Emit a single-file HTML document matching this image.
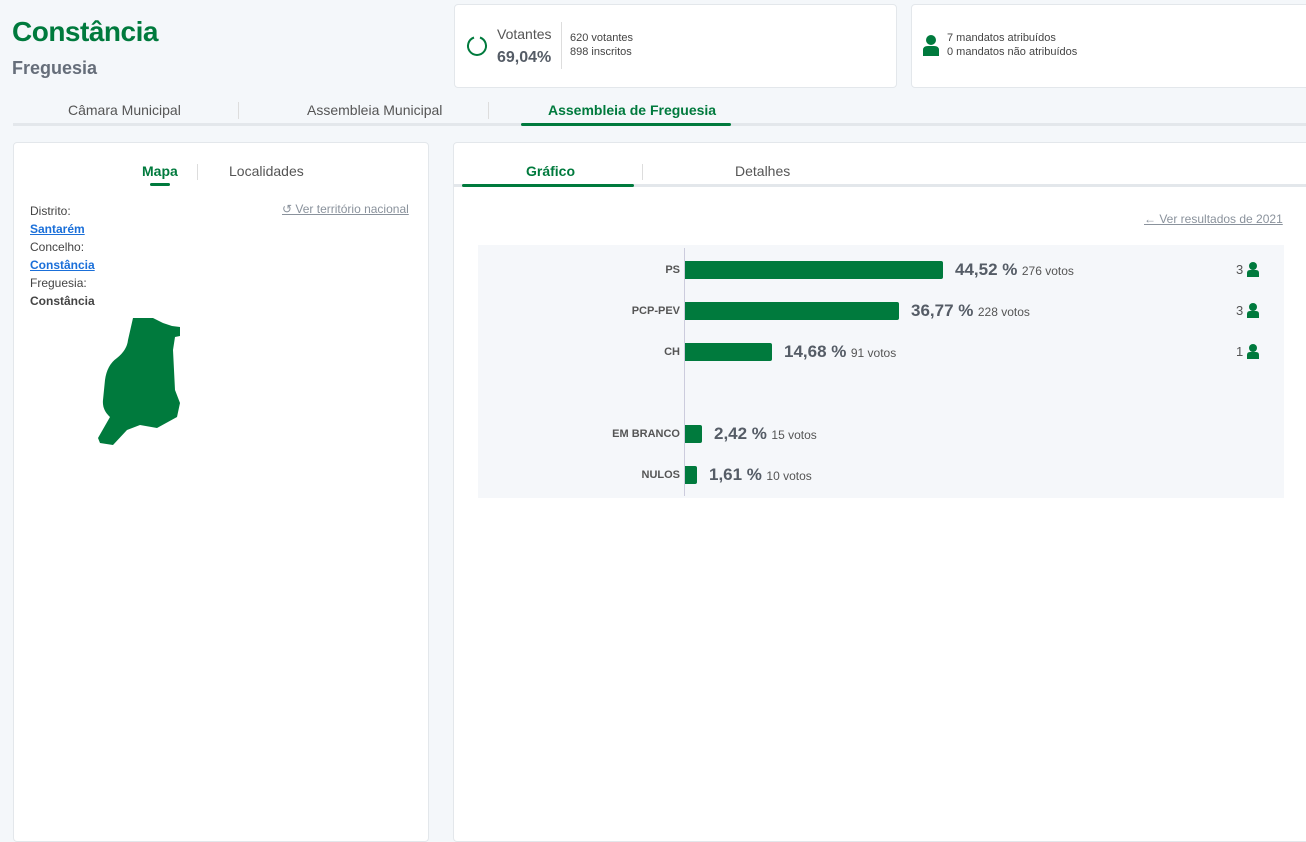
<!DOCTYPE html>
<html><head><meta charset="utf-8"><style>
*{margin:0;padding:0;box-sizing:border-box}
body{width:1306px;height:830px;overflow:hidden;background:#f4f7fa;font-family:"Liberation Sans",sans-serif;position:relative;color:#444}
.a{position:absolute;white-space:nowrap}
.card{position:absolute;background:#fff;border:1px solid #e3e7eb;border-radius:4px}
.g{color:#007a3d}
.pct{font-size:17px;font-weight:bold;color:#555c66}
.vt{font-size:12px;color:#555}
.lab{font-size:11px;font-weight:bold;color:#555;text-align:right;width:120px}
.bar{position:absolute;background:#007a3d;border-radius:0 2px 2px 0;height:18px;left:685px}
</style></head><body>
<div class="a g" style="left:12px;top:16px;font-size:28px;font-weight:bold;letter-spacing:-0.5px">Constância</div>
<div class="a" style="left:12px;top:58px;font-size:18px;font-weight:bold;color:#666e7a">Freguesia</div>

<div class="card" style="left:454px;top:4px;width:443px;height:84px"></div>
<svg class="a" style="left:465px;top:34px" width="24" height="24"><path d="M15 3.5 A9 9 0 1 1 9 3.5" fill="none" stroke="#007a3d" stroke-width="2"/></svg>
<div class="a" style="left:497px;top:26px;font-size:14px;color:#555">Votantes</div>
<div class="a" style="left:497px;top:49px;font-size:16px;font-weight:bold;color:#555c66">69,04%</div>
<div class="a" style="left:561px;top:22px;width:1px;height:47px;background:#ddd"></div>
<div class="a" style="left:570px;top:31px;font-size:11px;color:#444;line-height:14px">620 votantes<br>898 inscritos</div>

<div class="card" style="left:911px;top:4px;width:400px;height:84px"></div>
<svg class="a" style="left:921px;top:34px" width="20" height="22"><circle cx="10" cy="6" r="5" fill="#007a3d"/><path d="M2 22 V16 Q2 12 7 12 H13 Q18 12 18 16 V22Z" fill="#007a3d"/></svg>
<div class="a" style="left:947px;top:31px;font-size:11px;color:#444;line-height:14px">7 mandatos atribuídos<br>0 mandatos não atribuídos</div>

<div class="a" style="left:68px;top:102px;font-size:14px;color:#555">Câmara Municipal</div>
<div class="a" style="left:238px;top:102px;width:1px;height:17px;background:#ddd"></div>
<div class="a" style="left:307px;top:102px;font-size:14px;color:#555">Assembleia Municipal</div>
<div class="a" style="left:488px;top:102px;width:1px;height:17px;background:#ddd"></div>
<div class="a g" style="left:548px;top:102px;font-size:14px;font-weight:bold">Assembleia de Freguesia</div>
<div class="a" style="left:13px;top:123px;width:1293px;height:3px;background:#e3e7eb"></div>
<div class="a" style="left:521px;top:123px;width:210px;height:3px;background:#007a3d;border-radius:2px"></div>

<div class="card" style="left:13px;top:142px;width:416px;height:700px"></div>
<div class="a g" style="left:142px;top:163px;font-size:14px;font-weight:bold">Mapa</div>
<div class="a" style="left:150px;top:183px;width:20px;height:3px;background:#007a3d;border-radius:2px"></div>
<div class="a" style="left:197px;top:164px;width:1px;height:16px;background:#ddd"></div>
<div class="a" style="left:229px;top:163px;font-size:14px;color:#555">Localidades</div>
<div class="a" style="left:30px;top:202px;font-size:12px;line-height:18px;color:#444">Distrito:<br><u style="color:#1a6fd9;font-weight:bold">Santarém</u><br>Concelho:<br><u style="color:#1a6fd9;font-weight:bold">Constância</u><br>Freguesia:<br><b>Constância</b></div>
<div class="a" style="left:282px;top:202px;font-size:12px;color:#8a929c;text-decoration:underline">↺ Ver território nacional</div>
<svg class="a" style="left:0;top:0" width="200" height="460"><path fill="#007a3d" d="M133,318 L153,318 L163,323 L172,326 L180,327 L180,336 L175,337 L173,350 L175,390 L180,403 L177,417 L157,428 L140,425 L127,430 L113,445 L100,443 L98,438 L110,417 Q102,410 103,400 L105,380 Q107,365 117,358 Q127,350 128,340 Z"/></svg>

<div class="card" style="left:453px;top:142px;width:860px;height:700px"></div>
<div class="a g" style="left:526px;top:163px;font-size:14px;font-weight:bold">Gráfico</div>
<div class="a" style="left:642px;top:164px;width:1px;height:16px;background:#ddd"></div>
<div class="a" style="left:735px;top:163px;font-size:14px;color:#555">Detalhes</div>
<div class="a" style="left:454px;top:184px;width:852px;height:3px;background:#e3e7eb"></div>
<div class="a" style="left:462px;top:184px;width:172px;height:3px;background:#007a3d;border-radius:2px"></div>
<div class="a" style="left:1144px;top:212px;font-size:12px;color:#8a929c;text-decoration:underline">← Ver resultados de 2021</div>

<div class="a" style="left:478px;top:245px;width:806px;height:253px;background:#f5f7fa"></div>
<div class="a" style="left:684px;top:248px;width:1px;height:248px;background:#ccd"></div>

<div class="a lab" style="left:560px;top:264px">PS</div>
<div class="bar" style="top:261px;width:258px"></div>
<div class="a" style="left:955px;top:260px"><span class="pct">44,52 %</span> <span class="vt">276 votos</span></div>
<div class="a lab" style="left:560px;top:305px">PCP-PEV</div>
<div class="bar" style="top:302px;width:214px"></div>
<div class="a" style="left:911px;top:301px"><span class="pct">36,77 %</span> <span class="vt">228 votos</span></div>
<div class="a lab" style="left:560px;top:346px">CH</div>
<div class="bar" style="top:343px;width:87px"></div>
<div class="a" style="left:784px;top:342px"><span class="pct">14,68 %</span> <span class="vt">91 votos</span></div>
<div class="a lab" style="left:560px;top:428px">EM BRANCO</div>
<div class="bar" style="top:425px;width:17px"></div>
<div class="a" style="left:714px;top:424px"><span class="pct">2,42 %</span> <span class="vt">15 votos</span></div>
<div class="a lab" style="left:560px;top:469px">NULOS</div>
<div class="bar" style="top:466px;width:12px"></div>
<div class="a" style="left:709px;top:465px"><span class="pct">1,61 %</span> <span class="vt">10 votos</span></div>

<div class="a" style="left:1236px;top:262px;font-size:13px;color:#555">3</div>
<div class="a" style="left:1236px;top:303px;font-size:13px;color:#555">3</div>
<div class="a" style="left:1236px;top:344px;font-size:13px;color:#555">1</div>
<svg class="a" style="left:1246px;top:262px" width="16" height="100"><g fill="#007a3d"><circle cx="7" cy="4" r="4"/><path d="M1 15V11Q1 8 4 8H10Q13 8 13 11V15Z"/><circle cx="7" cy="45" r="4"/><path d="M1 56V52Q1 49 4 49H10Q13 49 13 52V56Z"/><circle cx="7" cy="86" r="4"/><path d="M1 97V93Q1 90 4 90H10Q13 90 13 93V97Z"/></g></svg>
</body></html>
